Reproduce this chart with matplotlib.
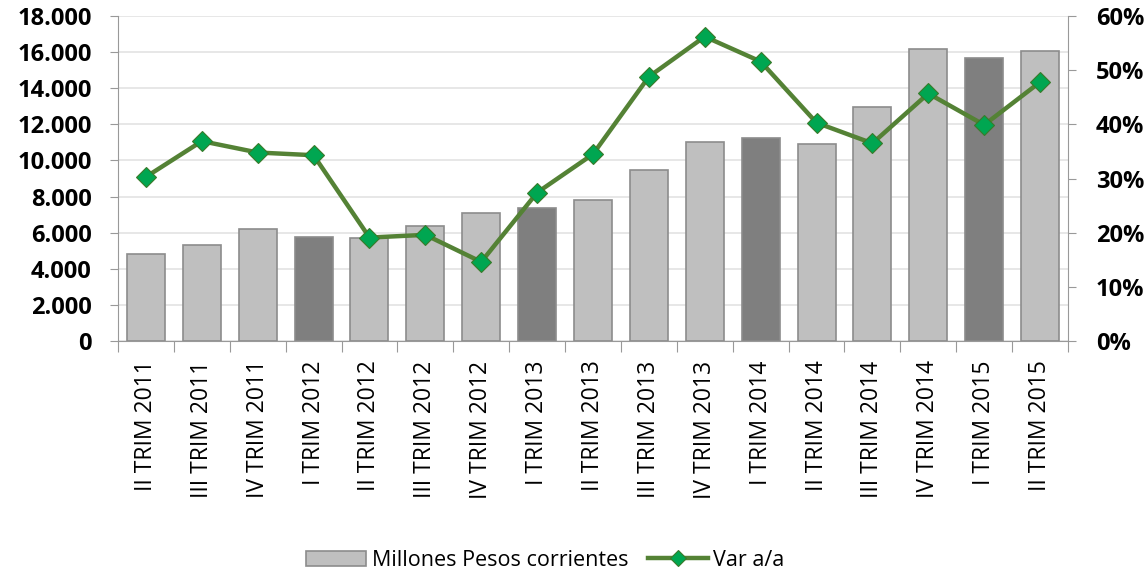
import matplotlib.pyplot as plt
from matplotlib.ticker import FuncFormatter, MultipleLocator

plt.rcParams['font.family'] = ['Open Sans', 'DejaVu Sans']

# Datos del grafico
trimestres = ['II TRIM 2011', 'III TRIM 2011', 'IV TRIM 2011',
              'I TRIM 2012', 'II TRIM 2012', 'III TRIM 2012', 'IV TRIM 2012',
              'I TRIM 2013', 'II TRIM 2013', 'III TRIM 2013', 'IV TRIM 2013',
              'I TRIM 2014', 'II TRIM 2014', 'III TRIM 2014', 'IV TRIM 2014',
              'I TRIM 2015', 'II TRIM 2015']
millones = [4800, 5300, 6200, 5750, 5700, 6350, 7100, 7350, 7800, 9450,
            11050, 11250, 10900, 12950, 16150, 15650, 16050]
var_aa = [30.3, 36.9, 34.8, 34.3, 19.1, 19.6, 14.6, 27.4, 34.5, 48.8,
          56.2, 51.6, 40.3, 36.5, 45.7, 39.9, 47.8]

# I TRIM en gris oscuro
colores = ['#7f7f7f' if t.startswith('I TRIM') else '#bfbfbf' for t in trimestres]

fig = plt.figure(figsize=(11.48, 5.73), dpi=100)
ax = fig.add_axes([0.1028, 0.4049, 0.8275, 0.5671])
x = list(range(len(trimestres)))

barras = ax.bar(x, millones, width=0.68, color=colores, edgecolor='#8c8c8c',
                linewidth=1.2, zorder=2, label='Millones Pesos corrientes')
ax.set_xlim(-0.5, len(trimestres) - 0.5)
ax.set_ylim(0, 18000)
ax.yaxis.set_major_locator(MultipleLocator(2000))
ax.yaxis.set_major_formatter(FuncFormatter(lambda v, p: f'{int(v):,}'.replace(',', '.')))
ax.grid(axis='y', color='#e3e3e3', linewidth=1.2, zorder=0)
ax.set_axisbelow(True)

ax.set_xticks([i - 0.5 for i in range(len(trimestres) + 1)], minor=False)
ax.set_xticklabels([])
ax.set_xticks(x, minor=True)
ax.set_xticklabels(trimestres, minor=True, rotation=90, fontsize=16.5)
ax.tick_params(axis='x', which='minor', length=0, pad=14)
ax.tick_params(axis='x', which='major', length=8, color='#999999', direction='out')
ax.tick_params(axis='y', labelsize=17, length=6, color='#999999', pad=13)
for lab in ax.get_yticklabels():
    lab.set_fontweight('bold')

for s in ['left', 'bottom']:
    ax.spines[s].set_color('#999999')
ax.spines['top'].set_visible(False)
ax.spines['right'].set_visible(False)

ax2 = ax.twinx()
linea, = ax2.plot(x, var_aa, color='#548235', linewidth=3.2, marker='D',
                  markersize=10, markerfacecolor='#00a651',
                  markeredgecolor='#3a7a2a', markeredgewidth=0.8, zorder=3,
                  label='Var a/a')
ax2.set_ylim(0, 60)
ax2.yaxis.set_major_locator(MultipleLocator(10))
ax2.yaxis.set_major_formatter(FuncFormatter(lambda v, p: f'{int(v)}%'))
ax2.tick_params(axis='y', labelsize=17, length=6, color='#999999', pad=14)
for lab in ax2.get_yticklabels():
    lab.set_fontweight('bold')
ax2.spines['right'].set_color('#999999')
ax2.spines['top'].set_visible(False)
ax2.spines['left'].set_visible(False)
ax2.spines['bottom'].set_visible(False)

fig.legend([barras, linea], ['Millones Pesos corrientes', 'Var a/a'],
           loc='lower center', bbox_to_anchor=(0.475, -0.03), ncol=2,
           frameon=False, fontsize=15.5, handlelength=2.8, columnspacing=0.9,
           handletextpad=0.25, markerscale=0.8)

fig.savefig('out.png', dpi=100)
